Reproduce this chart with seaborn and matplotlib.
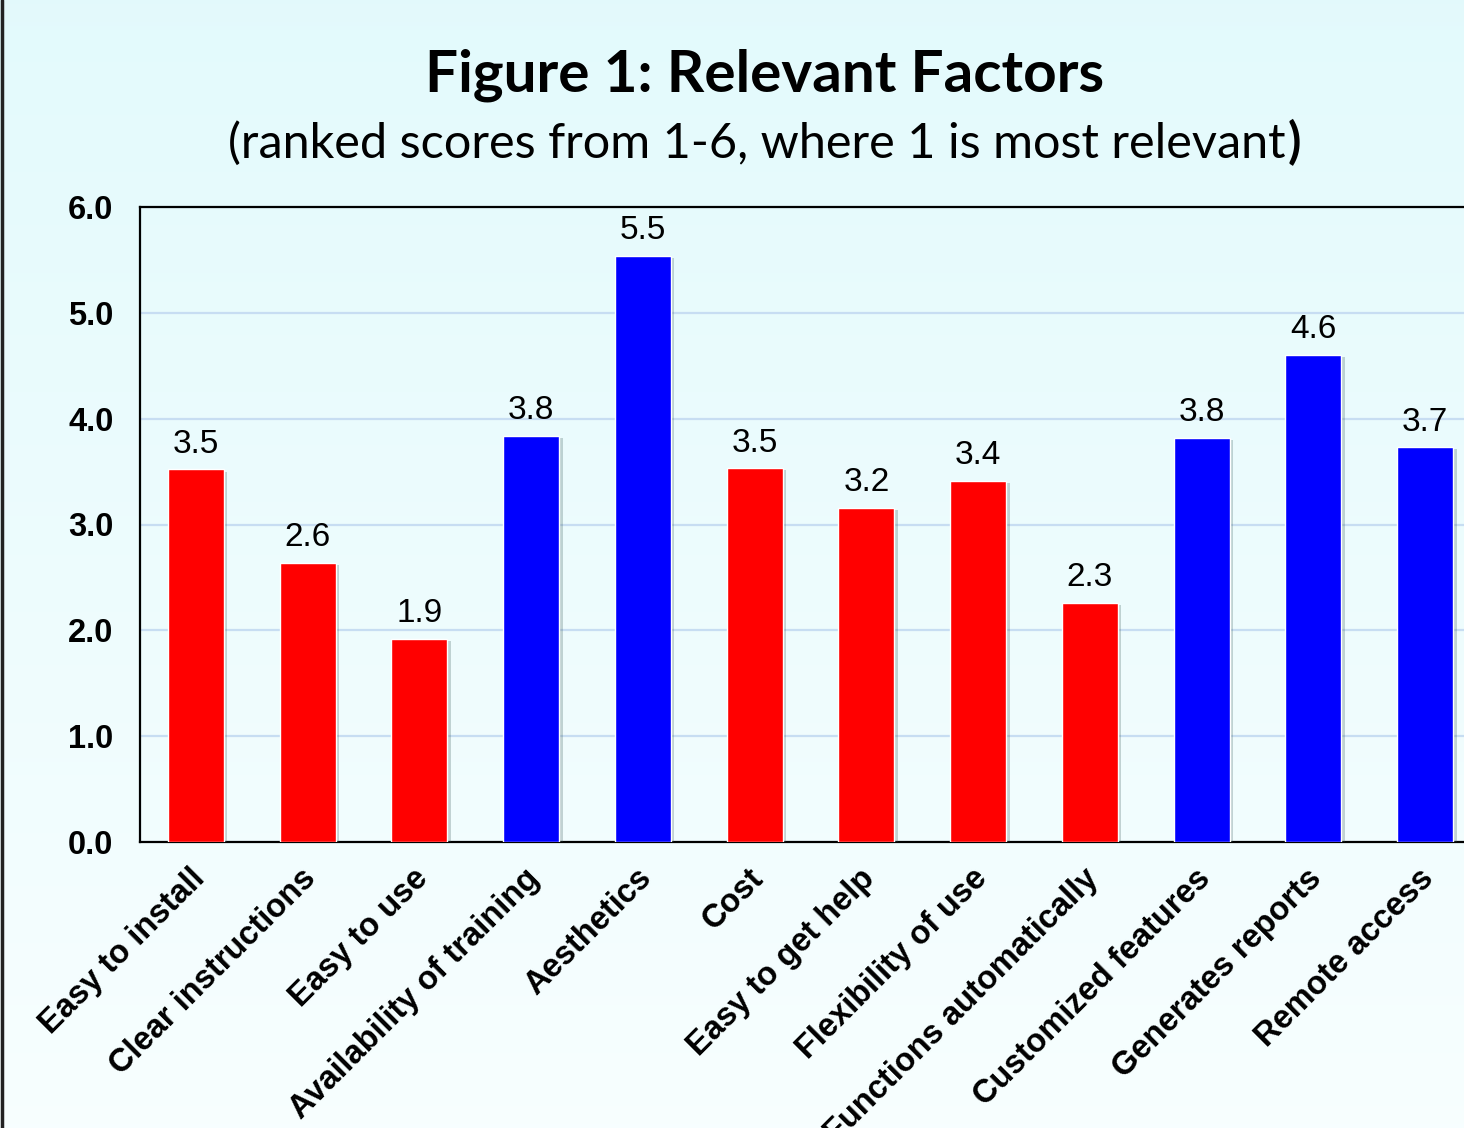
import numpy as np
import pandas as pd
import matplotlib
matplotlib.use('Agg')
import matplotlib.pyplot as plt
import matplotlib.patheffects as pe
import matplotlib.transforms as mtransforms
import seaborn as sns

#Data
factors = ['Easy to install', 'Clear instructions', 'Easy to use', 'Availability of training',
           'Aesthetics', 'Cost', 'Easy to get help', 'Flexibility of use',
           'Functions automatically', 'Customized features', 'Generates reports', 'Remote access']
scores = [3.52, 2.64, 1.92, 3.84, 5.54, 3.53, 3.16, 3.41, 2.26, 3.82, 4.60, 3.73]
groups = ['red', 'red', 'red', 'blue', 'blue', 'red', 'red', 'red', 'red', 'blue', 'blue', 'blue']
y_ticks = [0, 1, 2, 3, 4, 5, 6]

df = pd.DataFrame({'factor': factors, 'score': scores, 'group': groups})
colors = {'red': '#FF0000', 'blue': '#0000FF'}

sns.set_style('white')
plt.rcParams['font.family'] = ['Liberation Sans', 'DejaVu Sans']
plt.rcParams['text.color'] = 'black'
plt.rcParams['xtick.color'] = 'black'
plt.rcParams['ytick.color'] = 'black'

fig = plt.figure(figsize=(14.64, 11.28), dpi=100)

#gradient background
bg = fig.add_axes([0, 0, 1, 1], zorder=-10)
top = np.array([0.890, 0.980, 0.988])
bot = np.array([0.970, 0.998, 1.000])
t = np.linspace(0, 1, 256)[:, None]
grad = top[None, :] * (1 - t) + bot[None, :] * t
bg.imshow(grad[:, None, :], aspect='auto', extent=[0, 1, 0, 1])
bg.axis('off')
fig.add_artist(plt.Line2D([0.0015, 0.0015], [0, 1], color='#222222', lw=2.5, transform=fig.transFigure))

ax = fig.add_axes([140 / 1464, 1 - 842 / 1128, (1481 - 140) / 1464, (842 - 207) / 1128])
ax.patch.set_alpha(0)
sns.barplot(data=df, x='factor', y='score', hue='group', palette=colors, width=0.5,
            saturation=1, legend=False, ax=ax, zorder=3, dodge=False)

for bar in ax.patches:
    bar.set_path_effects([pe.SimplePatchShadow(offset=(2.5, -1.5), alpha=0.25, shadow_rgbFace='#335555'), pe.Normal()])

for c in ax.containers:
    ax.bar_label(c, fmt='%.1f', padding=7, fontsize=24, color='black')

ax.set_xlim(-0.5, 11.5)
ax.set_ylim(0, 6)
ax.set_yticks(y_ticks)
ax.set_yticklabels([f'{v:.1f}' for v in y_ticks], fontsize=23.5, fontweight='bold')
ax.yaxis.grid(True, color='#C7DDF2', lw=1.6, zorder=0)
ax.set_axisbelow(True)
ax.tick_params(axis='y', length=0, pad=19)
ax.tick_params(axis='x', length=0, pad=15)
ax.set_xticks(range(len(factors)))
ax.set_xticklabels(factors, rotation=45, ha='right', rotation_mode='anchor',
                   fontsize=23.5, fontweight='bold')
shift = mtransforms.ScaledTranslation(-5 / 72, 0, fig.dpi_scale_trans)
for lbl in ax.get_xticklabels():
    lbl.set_transform(lbl.get_transform() + shift)
ax.set_xlabel('')
ax.set_ylabel('')
for s in ['left', 'top', 'bottom']:
    ax.spines[s].set_color('black')
    ax.spines[s].set_linewidth(1.6)
ax.spines['right'].set_visible(False)

#title
fig.text(765 / 1464, 1 - 92 / 1128, 'Figure 1: Relevant Factors', ha='center', va='baseline',
         fontsize=42, fontweight='bold', family=['Lato', 'DejaVu Sans'])
sub = fig.text(757 / 1464, 1 - 158 / 1128, '(ranked scores from 1-6, where 1 is most relevant',
               ha='center', va='baseline', fontsize=35, family=['Lato', 'DejaVu Sans'])
fig.canvas.draw()
bb = sub.get_window_extent()
fig.text(bb.x1 / fig.bbox.width + 0.001, 1 - 158 / 1128, ')', ha='left', va='baseline',
         fontsize=35, fontweight='bold', family=['Lato', 'DejaVu Sans'])

fig.savefig('out.png', dpi=100)
